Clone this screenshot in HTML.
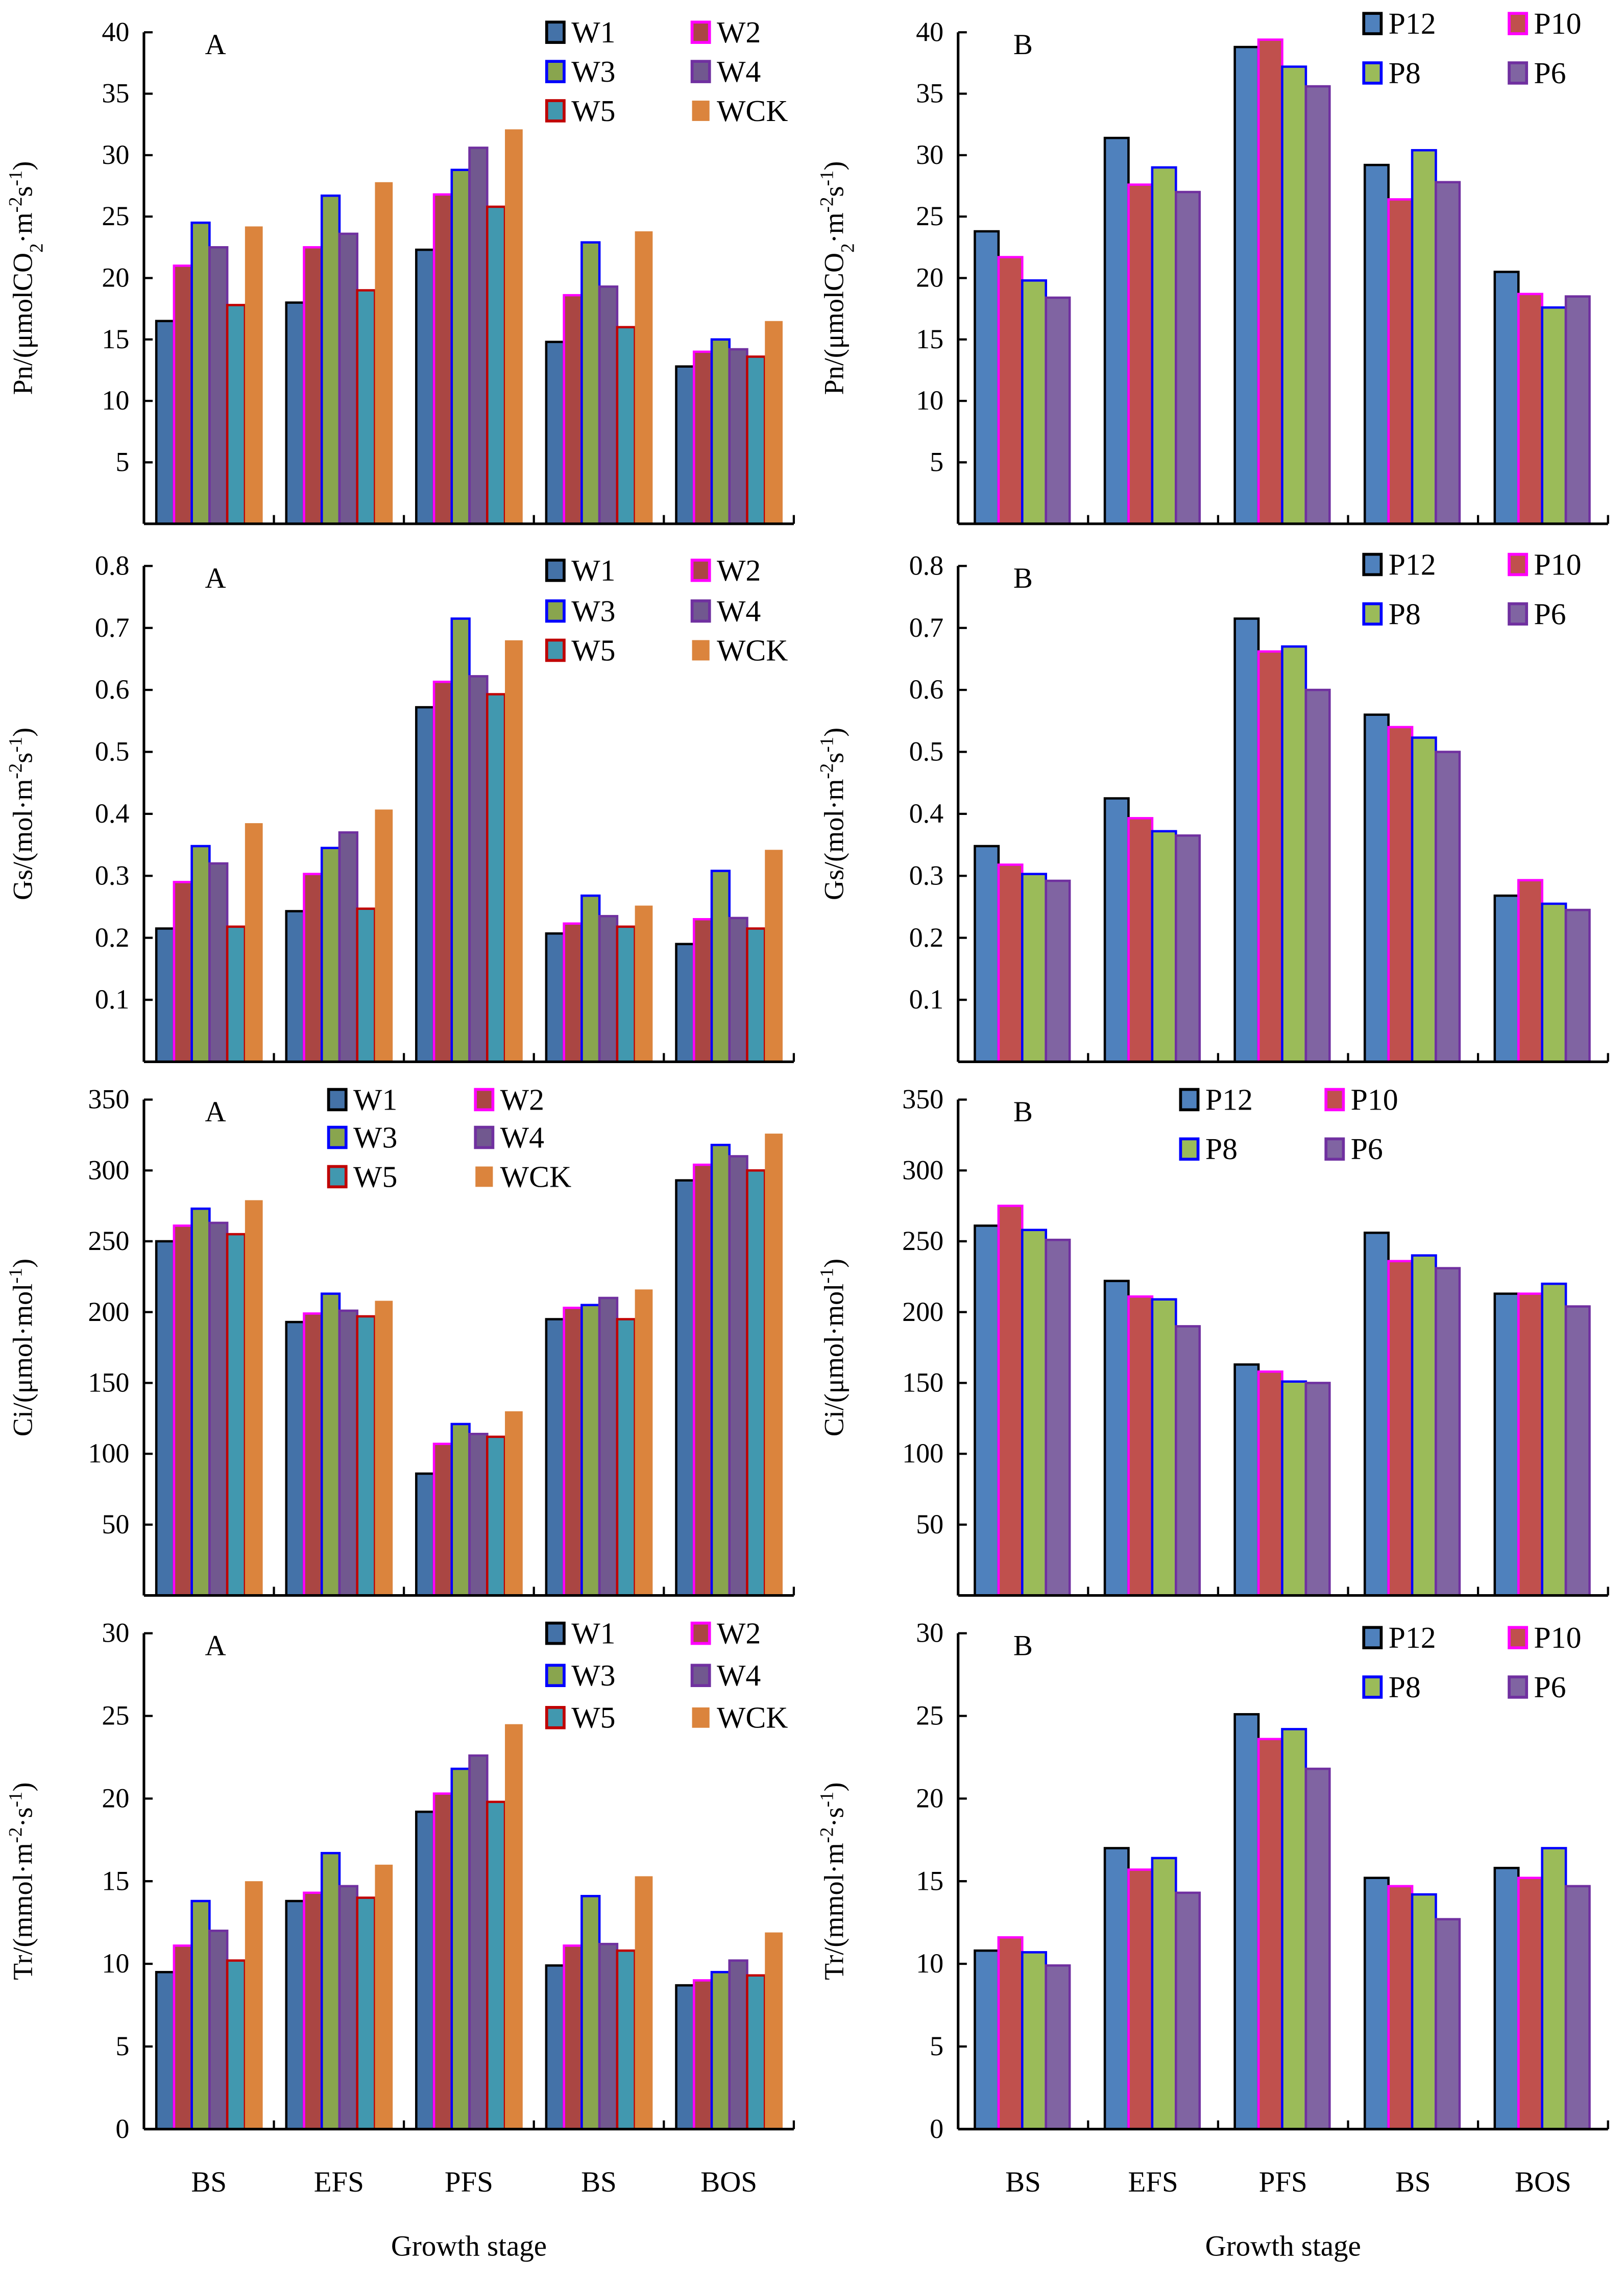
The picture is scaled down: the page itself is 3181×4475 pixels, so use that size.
<!DOCTYPE html>
<html><head><meta charset="utf-8"><style>
html,body{margin:0;padding:0;background:#fff}
svg{display:block}
text{font-family:"Liberation Serif",serif;fill:#000}
</style></head><body>
<svg id="fig" width="3181" height="4475" viewBox="0 0 1117 1571" xmlns="http://www.w3.org/2000/svg"></svg>
<script>
const categories = ["BS","EFS","PFS","BS","BOS"];
const seriesA = ["W1","W2","W3","W4","W5","WCK"];
const seriesB = ["P12","P10","P8","P6"];
const pnA = [[16.5,21,24.5,22.5,17.8,24.2],[18,22.5,26.7,23.6,19,27.8],[22.3,26.8,28.8,30.6,25.8,32.1],[14.8,18.6,22.9,19.3,16,23.8],[12.8,14,15,14.2,13.6,16.5]];
const pnB = [[23.8,21.7,19.8,18.4],[31.4,27.6,29,27],[38.8,39.4,37.2,35.6],[29.2,26.4,30.4,27.8],[20.5,18.7,17.6,18.5]];
const gsA = [[0.215,0.29,0.348,0.32,0.218,0.385],[0.243,0.303,0.345,0.37,0.247,0.407],[0.572,0.613,0.715,0.622,0.593,0.68],[0.207,0.223,0.268,0.235,0.218,0.252],[0.19,0.23,0.308,0.232,0.215,0.342]];
const gsB = [[0.348,0.318,0.303,0.292],[0.425,0.393,0.372,0.365],[0.715,0.662,0.67,0.6],[0.56,0.54,0.523,0.5],[0.268,0.293,0.255,0.245]];
const ciA = [[250,261,273,263,255,279],[193,199,213,201,197,208],[86,107,121,114,112,130],[195,203,205,210,195,216],[293,304,318,310,300,326]];
const ciB = [[261,275,258,251],[222,211,209,190],[163,158,151,150],[256,236,240,231],[213,213,220,204]];
const trA = [[9.5,11.1,13.8,12,10.2,15],[13.8,14.3,16.7,14.7,14,16],[19.2,20.3,21.8,22.6,19.8,24.5],[9.9,11.1,14.1,11.2,10.8,15.3],[8.7,9,9.5,10.2,9.3,11.9]];
const trB = [[10.8,11.6,10.7,9.9],[17,15.7,16.4,14.3],[25.1,23.6,24.2,21.8],[15.2,14.7,14.2,12.7],[15.8,15.2,17,14.7]];
const pnTicks = [5,10,15,20,25,30,35,40];
const gsTicks = [0.1,0.2,0.3,0.4,0.5,0.6,0.7,0.8];
const ciTicks = [50,100,150,200,250,300,350];
const trTicks = [0,5,10,15,20,25,30];

const fillA=["#4472A8","#AA4643","#89A54E","#71588F","#4198AF","#DB843D"];
const strokeA=["#000","#FF00FF","#0000FF","#7030A0","#C00000","none"];
const fillB=["#4F81BD","#C0504D","#9BBB59","#8064A2"];
const strokeB=["#000","#FF00FF","#0000FF","#7030A0"];
const svg=document.getElementById('fig');
const NS="http://www.w3.org/2000/svg";
function mk(tag,attrs,parent){const e=document.createElementNS(NS,tag);for(const k in attrs)e.setAttribute(k,attrs[k]);(parent||svg).appendChild(e);return e;}

const rows=[
 {top:22,bot:360,max:40,ticks:pnTicks,A:pnA,B:pnB,fmt:v=>String(v),title:"Pn/(μmolCO<tspan baseline-shift='sub' font-size='13'>2</tspan>·m<tspan baseline-shift='super' font-size='13'>-2</tspan>s<tspan baseline-shift='super' font-size='13'>-1</tspan>)",name:"pn",
  legA:{x1:382,x2:482,ys:[22,49,76]},legB:{x1:944,x2:1044,ys:[16,50]}},
 {top:389,bot:730,max:0.8,ticks:gsTicks,A:gsA,B:gsB,fmt:v=>v.toFixed(1),title:"Gs/(mol·m<tspan baseline-shift='super' font-size='13'>-2</tspan>s<tspan baseline-shift='super' font-size='13'>-1</tspan>)",name:"gs",
  legA:{x1:382,x2:482,ys:[392,420,447]},legB:{x1:944,x2:1044,ys:[388,422]}},
 {top:756,bot:1097,max:350,ticks:ciTicks,A:ciA,B:ciB,fmt:v=>String(v),title:"Ci/(μmol·mol<tspan baseline-shift='super' font-size='13'>-1</tspan>)",name:"ci",
  legA:{x1:232,x2:333,ys:[756,782,809]},legB:{x1:818,x2:918,ys:[756,790]}},
 {top:1123,bot:1464,max:30,ticks:trTicks,A:trA,B:trB,fmt:v=>String(v),title:"Tr/(mmol·m<tspan baseline-shift='super' font-size='13'>-2</tspan>·s<tspan baseline-shift='super' font-size='13'>-1</tspan>)",name:"tr",
  legA:{x1:382,x2:482,ys:[1123,1152,1181]},legB:{x1:944,x2:1044,ys:[1126,1160]}}
];

function panel(r,side){
 const isA=side==="A";
 const x0=isA?99:659, x1=isA?546:1106, gw=(x1-x0)/5;
 const data=isA?r.A:r.B, names=isA?seriesA:seriesB;
 const fills=isA?fillA:fillB, strokes=isA?strokeA:strokeB;
 const bw=isA?12.2:16.3, off=isA?8.5:11.5;
 const g=mk('g',{});
 
 
 const y=v=>r.bot-(v/r.max)*(r.bot-r.top);
 data.forEach((grp,gi)=>{grp.forEach((v,si)=>{
  const bx=x0+gi*gw+off+si*bw, by=y(v);
  const b=mk('rect',{x:bx,y:by,width:bw,height:r.bot-by,fill:fills[si],stroke:strokes[si],'stroke-width':strokes[si]==="none"?0:1.6},g);
  
  
 });});
 const ya=mk('line',{x1:x0,y1:r.top,x2:x0,y2:r.bot,stroke:'#000','stroke-width':1.8},g);
 
 
 const xa=mk('line',{x1:x0,y1:r.bot,x2:x1,y2:r.bot,stroke:'#000','stroke-width':1.8},g);
 
 
 for(let i=1;i<=5;i++){const xx=x0+i*gw;mk('line',{x1:xx,y1:r.bot,x2:xx,y2:r.bot-6,stroke:'#000','stroke-width':1.5},g);}
 r.ticks.forEach(t=>{
  const yy=y(t);
  mk('line',{x1:x0,y1:yy,x2:x0+6,y2:yy,stroke:'#000','stroke-width':1.5},g);
  const tl=mk('text',{x:x0-10,y:yy+6,'text-anchor':'end','font-size':19},g);
  tl.textContent=r.fmt(t);
  
  
 });
 const tx=isA?22:580, ty=(r.top+r.bot)/2;
 const tt=mk('text',{x:0,y:0,'text-anchor':'middle','font-size':19,transform:`translate(${tx},${ty}) rotate(-90)`},g);
 tt.innerHTML=r.title;
 
 
 const pl=mk('text',{x:isA?141:697,y:r.top+15,'font-size':20},g);
 pl.textContent=side;
 
 
 const L=isA?r.legA:r.legB;
 names.forEach((n,i)=>{
  const col=i%2, row=Math.floor(i/2);
  const lx=col?L.x2:L.x1, ly=L.ys[row];
  const le=mk('g',{},g);
  
  
  mk('rect',{x:lx-6,y:ly-7,width:12,height:14,fill:fills[i],stroke:strokes[i],'stroke-width':strokes[i]==="none"?0:2},le);
  const t=mk('text',{x:lx+11,y:ly+7,'font-size':21},le);
  t.textContent=n;
 });
 if(r.name==="tr"){
  categories.forEach((c,gi)=>{
   const cl=mk('text',{x:x0+gi*gw+gw/2,y:1507,'text-anchor':'middle','font-size':20},g);
   cl.textContent=c;
   
   
  });
  const xt=mk('text',{x:(x0+x1)/2,y:1551,'text-anchor':'middle','font-size':20},g);
  xt.textContent="Growth stage";
  
  
 }
}
rows.forEach(r=>{panel(r,"A");panel(r,"B");});
</script>
</body></html>
